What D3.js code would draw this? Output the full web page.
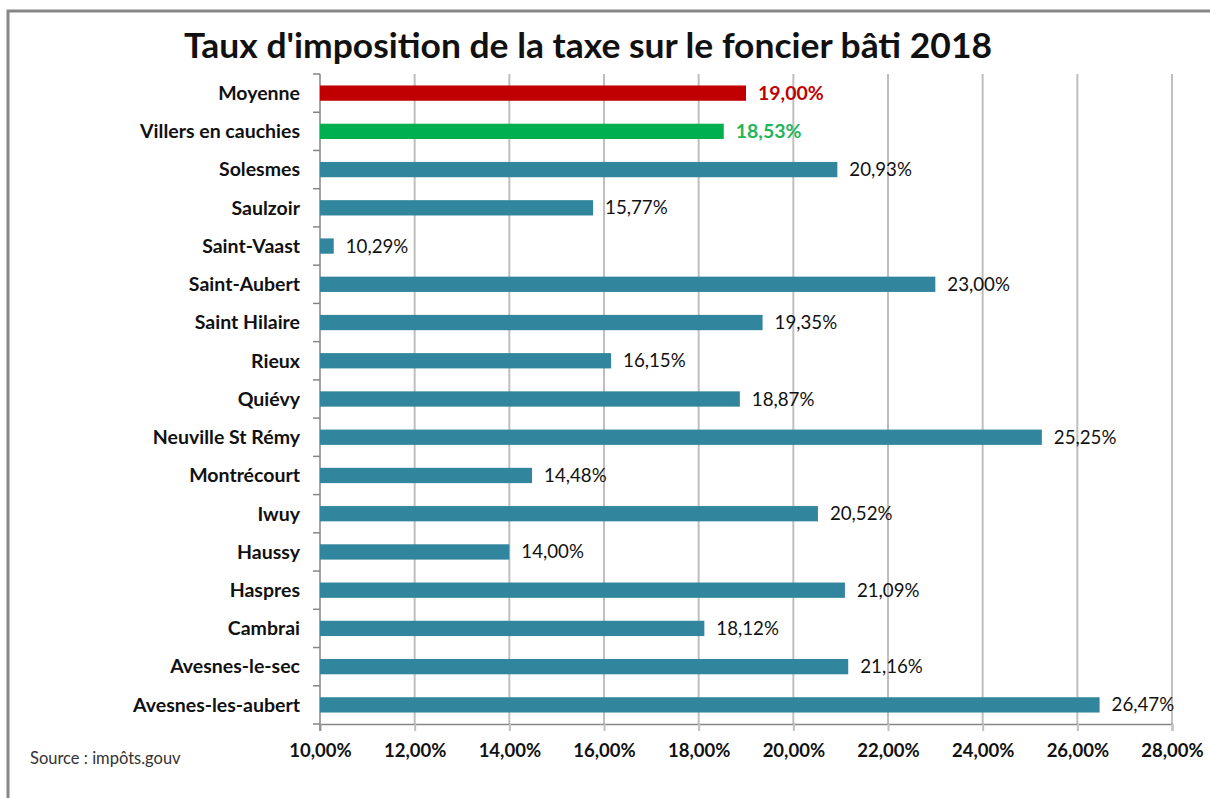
<!DOCTYPE html>
<html>
<head>
<meta charset="utf-8">
<script src="https://cdnjs.cloudflare.com/ajax/libs/d3/7.8.5/d3.min.js"></script>
<style>
  body { margin: 0; background: #fff; }
  svg { display: block; font-family: Lato, "Open Sans", sans-serif; }
</style>
</head>
<body>
<div id="chart"></div>
<script>
const communes = [
  'Moyenne', 'Villers en cauchies', 'Solesmes', 'Saulzoir', 'Saint-Vaast',
  'Saint-Aubert', 'Saint Hilaire', 'Rieux', 'Quiévy', 'Neuville St Rémy',
  'Montrécourt', 'Iwuy', 'Haussy', 'Haspres', 'Cambrai', 'Avesnes-le-sec',
  'Avesnes-les-aubert'
];
const taux = [
  19.00, 18.53, 20.93, 15.77, 10.29,
  23.00, 19.35, 16.15, 18.87, 25.25,
  14.48, 20.52, 14.00, 21.09, 18.12, 21.16,
  26.47
];
const xTicks = [10, 12, 14, 16, 18, 20, 22, 24, 26, 28];

const data = communes.map((c, i) => ({ commune: c, taux: taux[i] }));

const width = 1210;
const height = 798;
const margin = { top: 74, right: 38, bottom: 74, left: 320 };

const fr = d3.formatLocale({ decimal: ',', thousands: ' ', grouping: [3], currency: ['', '€'] });
const pct = (v) => fr.format('.2f')(v) + '%';
const highlight = (d) => d.commune === 'Moyenne' || d.commune === 'Villers en cauchies';

const svg = d3.select('#chart')
  .append('svg')
  .attr('width', width)
  .attr('height', height);

// cadre gris
svg.append('rect')
  .attr('x', 8)
  .attr('y', 11)
  .attr('width', width + 20)
  .attr('height', height + 20)
  .attr('fill', 'none')
  .attr('stroke', '#878787')
  .attr('stroke-width', 3);

svg.append('text')
  .attr('x', 588)
  .attr('y', 58)
  .attr('text-anchor', 'middle')
  .attr('font-size', 34)
  .attr('font-weight', 'bold')
  .attr('fill', '#111')
  .attr('textLength', 808)
  .attr('lengthAdjust', 'spacingAndGlyphs')
  .text("Taux d'imposition de la taxe sur le foncier bâti 2018");

const xScale = d3.scaleLinear()
  .domain([10, 28])
  .range([margin.left, width - margin.right]);

const yScale = d3.scaleBand()
  .domain(communes)
  .range([margin.top, height - margin.bottom])
  .paddingInner(0.6)
  .paddingOuter(0.3);

const plotBottom = height - margin.bottom;

// grille verticale
svg.append('g')
  .selectAll('line')
  .data(xTicks.slice(1))
  .join('line')
  .attr('x1', (d) => xScale(d))
  .attr('x2', (d) => xScale(d))
  .attr('y1', margin.top)
  .attr('y2', plotBottom)
  .attr('stroke', '#bfbfbf')
  .attr('stroke-width', 2);

// axe x
const xAxis = d3.axisBottom(xScale)
  .tickValues(xTicks)
  .tickSize(7)
  .tickFormat(pct);

const gx = svg.append('g')
  .attr('transform', `translate(0, ${plotBottom})`)
  .call(xAxis);
gx.select('.domain').attr('stroke', '#868686').attr('stroke-width', 1.5);
gx.selectAll('.tick line').attr('stroke', '#bfbfbf').attr('stroke-width', 2);
gx.selectAll('text')
  .attr('y', 20)
  .attr('dy', '0.71em')
  .attr('font-size', 18.5)
  .attr('font-weight', 'bold')
  .attr('fill', '#111')
  .attr('font-family', 'Lato, sans-serif');

// axe y : traits entre les catégories
const step = yScale.step();
const boundaries = d3.range(communes.length + 1).map((i) => margin.top + i * step);

svg.append('g')
  .selectAll('line')
  .data(boundaries)
  .join('line')
  .attr('x1', margin.left - 7)
  .attr('x2', margin.left)
  .attr('y1', (d) => d)
  .attr('y2', (d) => d)
  .attr('stroke', '#868686')
  .attr('stroke-width', 1.5);

svg.append('line')
  .attr('x1', margin.left)
  .attr('x2', margin.left)
  .attr('y1', margin.top)
  .attr('y2', plotBottom + 7)
  .attr('stroke', '#868686')
  .attr('stroke-width', 1.5);

svg.append('g')
  .selectAll('text')
  .data(data)
  .join('text')
  .attr('x', margin.left - 20)
  .attr('y', (d) => yScale(d.commune) + yScale.bandwidth() / 2)
  .attr('dy', '0.35em')
  .attr('text-anchor', 'end')
  .attr('font-size', 19.5)
  .attr('font-weight', 'bold')
  .attr('fill', '#111')
  .text((d) => d.commune);

const colour = (d) => d.commune === 'Moyenne' ? '#c00000'
  : d.commune === 'Villers en cauchies' ? '#00b050' : '#31859c';
const labelColour = (d) => d.commune === 'Moyenne' ? '#c00000'
  : d.commune === 'Villers en cauchies' ? '#1fb55a' : '#111';

svg.append('g')
  .selectAll('rect')
  .data(data)
  .join('rect')
  .attr('x', xScale(10))
  .attr('y', (d) => yScale(d.commune))
  .attr('width', (d) => xScale(d.taux) - xScale(10))
  .attr('height', yScale.bandwidth())
  .attr('fill', colour);

svg.append('g')
  .selectAll('text')
  .data(data)
  .join('text')
  .attr('x', (d) => xScale(d.taux) + 12)
  .attr('y', (d) => yScale(d.commune) + yScale.bandwidth() / 2)
  .attr('dy', '0.35em')
  .attr('font-size', (d) => highlight(d) ? 19.5 : 18.7)
  .attr('font-weight', (d) => highlight(d) ? 'bold' : 'normal')
  .attr('fill', labelColour)
  .text((d) => pct(d.taux));

svg.append('text')
  .attr('x', 30)
  .attr('y', 764)
  .attr('font-size', 16.5)
  .attr('fill', '#333')
  .text('Source : impôts.gouv');
</script>
</body>
</html>
